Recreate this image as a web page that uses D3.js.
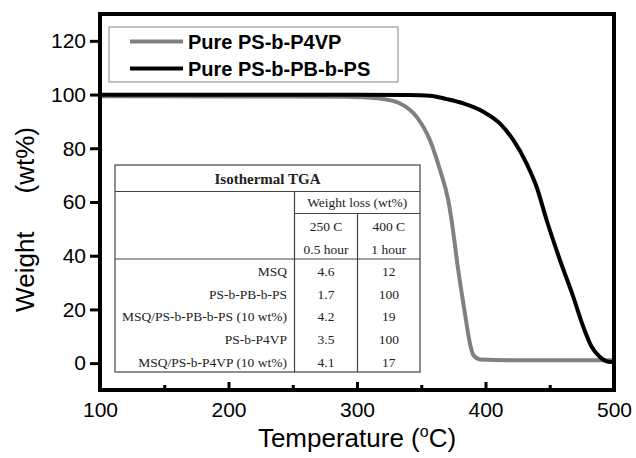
<!DOCTYPE html>
<html><head><meta charset="utf-8">
<script src="https://cdn.jsdelivr.net/npm/d3@7"></script>
<style>
html,body{margin:0;padding:0;background:#fff;}
svg{display:block;}
</style></head>
<body>
<svg id="chart" width="636" height="458"></svg>
<script>
// ---- data ----
const seriesNames = ["Pure PS-b-P4VP", "Pure PS-b-PB-b-PS"];
const p4vpTemp = [100, 250, 290, 305, 318, 333.5, 346.4, 356.8, 364.6, 371, 373.6, 378.8, 384, 387.9, 390.5, 395.7, 420, 500];
const p4vpWeight = [99.4, 99.3, 99.2, 99.0, 98.5, 96.7, 91.7, 83, 71.9, 60.7, 53.2, 34.6, 18.5, 7.3, 3, 1.4, 1.1, 1.1];
const pbTemp = [100, 300, 340, 356.8, 370, 382.7, 398.3, 411.3, 421.7, 432, 439.8, 447.6, 458, 468.3, 476.1, 482.6, 489.1, 495.6, 500];
const pbWeight = [99.9, 99.9, 99.8, 99.6, 98.3, 96.7, 93.6, 89.2, 83, 74.3, 65.6, 53.2, 38.3, 24.7, 13.5, 6.1, 2.3, 0.5, 0.4];
const yTicks = [0, 20, 40, 60, 80, 100, 120];
const xTicks = [100, 200, 300, 400, 500];
const xMinorTicks = [150, 250, 350, 450];
const tableTitle = "Isothermal TGA";
const tableGroupHeader = "Weight loss (wt%)";
const tableColHeaders = [["250 C", "0.5 hour"], ["400 C", "1 hour"]];
const tableRows = ["MSQ", "PS-b-PB-b-PS", "MSQ/PS-b-PB-b-PS (10 wt%)", "PS-b-P4VP", "MSQ/PS-b-P4VP (10 wt%)"];
const loss250 = ["4.6", "1.7", "4.2", "3.5", "4.1"];
const loss400 = ["12", "100", "19", "100", "17"];

// ---- layout ----
const L = 100, R = 614, T = 14, B = 390;
const svg = d3.select("#chart");
const x = d3.scaleLinear().domain([100, 500]).range([L, R]);
const y = d3.scaleLinear().domain([-10, 130]).range([B, T]);
const sans = "'Liberation Sans', Arial, Helvetica, sans-serif";
const serif = "'Liberation Serif', 'Times New Roman', serif";

svg.append("defs").append("clipPath").attr("id", "clip")
  .append("rect").attr("x", L).attr("y", T).attr("width", R - L).attr("height", B - T);

// curves
const line = d3.line().x(d => x(d[0])).y(d => y(d[1])).curve(d3.curveMonotoneX);
const gData = p4vpTemp.map((t, i) => [t, p4vpWeight[i]]);
const bData = pbTemp.map((t, i) => [t, pbWeight[i]]);
const colors = ["#808080", "#000000"];
const plot = svg.append("g").attr("clip-path", "url(#clip)");
plot.append("path").datum(gData).attr("d", line).attr("fill", "none")
  .attr("stroke", colors[0]).attr("stroke-width", 4).attr("stroke-linejoin", "round");
plot.append("path").datum(bData).attr("d", line).attr("fill", "none")
  .attr("stroke", colors[1]).attr("stroke-width", 4).attr("stroke-linejoin", "round");

// y axis
const yAxis = svg.append("g").attr("transform", `translate(${L},0)`)
  .call(d3.axisLeft(y).tickValues(yTicks).tickSize(10).tickPadding(4));
yAxis.select(".domain").remove();
yAxis.selectAll(".tick line").attr("stroke-width", 3);
yAxis.selectAll(".tick text").attr("font-family", sans).attr("font-size", 21).attr("fill", "#000");

// x axis (inward ticks)
const xAxis = svg.append("g").attr("transform", `translate(0,${B})`)
  .call(d3.axisBottom(x).tickValues(xTicks).tickSize(-8).tickPadding(12));
xAxis.select(".domain").remove();
xAxis.selectAll(".tick line").attr("stroke-width", 3);
xAxis.selectAll(".tick text").attr("font-family", sans).attr("font-size", 21).attr("fill", "#000");
const xMinor = svg.append("g").attr("transform", `translate(0,${B})`)
  .call(d3.axisBottom(x).tickValues(xMinorTicks).tickSize(-5).tickFormat(""));
xMinor.select(".domain").remove();
xMinor.selectAll(".tick line").attr("stroke-width", 3);

// frame
svg.append("rect").attr("x", L).attr("y", T).attr("width", R - L).attr("height", B - T)
  .attr("fill", "none").attr("stroke", "#000").attr("stroke-width", 4);

// axis titles
const xt = svg.append("text").attr("x", (L + R) / 2).attr("y", 447)
  .attr("text-anchor", "middle").attr("font-family", sans).attr("font-size", 26).attr("fill", "#000");
xt.append("tspan").text("Temperature (");
xt.append("tspan").text("o").attr("font-size", 16).attr("dy", -10);
xt.append("tspan").text("C)").attr("dy", 10);

const yt = svg.append("text").attr("transform", "translate(34,127) rotate(-90)")
  .attr("text-anchor", "end").attr("font-family", sans).attr("font-size", 26).attr("fill", "#000");
yt.append("tspan").text("Weight");
yt.append("tspan").attr("dx", 38).text("(wt%)");

// legend
const leg = svg.append("g");
leg.append("rect").attr("x", 109).attr("y", 27).attr("width", 289).attr("height", 55)
  .attr("fill", "#fff").attr("stroke", "#999").attr("stroke-width", 1.2);
seriesNames.forEach((name, i) => {
  const ly = 41.5 + i * 27;
  leg.append("line").attr("x1", 130).attr("x2", 183).attr("y1", ly).attr("y2", ly)
    .attr("stroke", colors[i]).attr("stroke-width", 4);
  leg.append("text").attr("x", 188).attr("y", ly + 7).attr("font-family", sans)
    .attr("font-weight", "bold").attr("font-size", 20).attr("fill", "#000").text(name);
});

// table
const tb = svg.append("g");
const tL = 115, tR = 420, tT = 165, tB = 372;
const c1 = 294.5, c2 = 357.5;
const hTitle = 191.5, hGroup = 213.5, hHead = 259;
const rowY = d3.scaleLinear().domain([0, tableRows.length - 1]).range([276, 366.7]);
const stroke = "#444";
tb.append("rect").attr("x", tL).attr("y", tT).attr("width", tR - tL).attr("height", tB - tT)
  .attr("fill", "#fff").attr("stroke", stroke).attr("stroke-width", 1.2);
tb.append("line").attr("x1", tL).attr("x2", tR).attr("y1", hTitle).attr("y2", hTitle).attr("stroke", stroke).attr("stroke-width", 1.2);
tb.append("line").attr("x1", c1).attr("x2", tR).attr("y1", hGroup).attr("y2", hGroup).attr("stroke", stroke).attr("stroke-width", 1.2);
tb.append("line").attr("x1", tL).attr("x2", tR).attr("y1", hHead).attr("y2", hHead).attr("stroke", stroke).attr("stroke-width", 1.2);
tb.append("line").attr("x1", c1).attr("x2", c1).attr("y1", hTitle).attr("y2", tB).attr("stroke", stroke).attr("stroke-width", 1.2);
tb.append("line").attr("x1", c2).attr("x2", c2).attr("y1", hGroup).attr("y2", tB).attr("stroke", stroke).attr("stroke-width", 1.2);

tb.append("text").attr("x", (tL + tR) / 2).attr("y", 184).attr("text-anchor", "middle")
  .attr("font-family", serif).attr("font-weight", "bold").attr("font-size", 15).attr("fill", "#222").text(tableTitle);
tb.append("text").attr("x", (c1 + tR) / 2).attr("y", 207).attr("text-anchor", "middle")
  .attr("font-family", serif).attr("font-size", 13.5).attr("fill", "#222").text(tableGroupHeader);
const colCenters = [(c1 + c2) / 2, (c2 + tR) / 2];
tableColHeaders.forEach((hdr, j) => {
  hdr.forEach((h, k) => {
    tb.append("text").attr("x", colCenters[j]).attr("y", 231 + k * 22.5).attr("text-anchor", "middle")
      .attr("font-family", serif).attr("font-size", 13.5).attr("fill", "#222").text(h);
  });
});
tableRows.forEach((r, i) => {
  tb.append("text").attr("x", 287).attr("y", rowY(i)).attr("text-anchor", "end")
    .attr("font-family", serif).attr("font-size", 13.5).attr("fill", "#222").text(r);
  tb.append("text").attr("x", colCenters[0]).attr("y", rowY(i)).attr("text-anchor", "middle")
    .attr("font-family", serif).attr("font-size", 13.5).attr("fill", "#222").text(loss250[i]);
  tb.append("text").attr("x", colCenters[1]).attr("y", rowY(i)).attr("text-anchor", "middle")
    .attr("font-family", serif).attr("font-size", 13.5).attr("fill", "#222").text(loss400[i]);
});
</script>
</body></html>
